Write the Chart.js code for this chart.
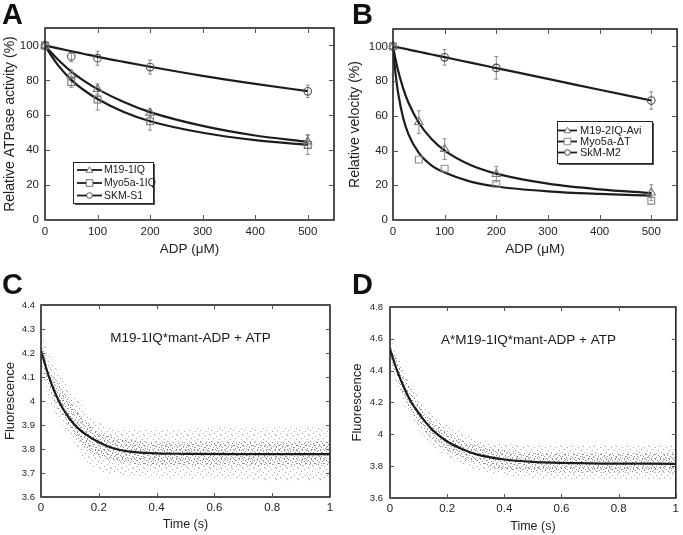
<!DOCTYPE html>
<html>
<head>
<meta charset="utf-8">
<script src="https://cdn.jsdelivr.net/npm/chart.js@4.4.1/dist/chart.umd.min.js"></script>
<style>
  body { margin: 0; background: #fff; width: 683px; height: 535px; position: relative; overflow: hidden; }
  canvas { position: absolute; }
  .tag { position: absolute; font: bold 29px "Liberation Sans", Arial, sans-serif; line-height: 1; color: #111; }
</style>
</head>
<body>
<canvas id="cA" width="340" height="270" style="left:0;top:0"></canvas>
<canvas id="cB" width="343" height="270" style="left:340px;top:0"></canvas>
<canvas id="cC" width="340" height="265" style="left:0;top:270px"></canvas>
<canvas id="cD" width="343" height="265" style="left:340px;top:270px"></canvas>
<div class="tag" style="left:2px;top:0px">A</div>
<div class="tag" style="left:352px;top:0px">B</div>
<div class="tag" style="left:2px;top:270px">C</div>
<div class="tag" style="left:352px;top:270px">D</div>
<script>
// ---- panel A : ATPase activity vs ADP
const adpA = [0, 50, 100, 200, 500];
const m19A = [100, 83, 75, 61.4, 45];
const m19AErr = [0, 3, 3, 2, 4];
const myoA = [100, 79, 69, 56.5, 43];
const myoAErr = [0, 3, 6, 5, 5.5];
const skmA = [100, 93.7, 92.7, 87.6, 73.7];
const skmAErr = [0, 3, 4, 4, 3.5];
const fitXA = [0, 10, 25, 50, 75, 100, 150, 200, 300, 400, 500];
const m19AFit = [100, 96.5, 91.8, 85, 79.6, 75, 67.6, 61.8, 53.9, 48.4, 44.8];
const myoAFit = [100, 95, 88.6, 80.3, 74.2, 69.3, 61.9, 56.6, 50, 45.8, 43.1];
const skmAFit = [100, 99.3, 98.3, 96.7, 95.1, 93.5, 90.6, 87.8, 82.6, 78, 73.8];

// ---- panel B : velocity vs ADP
const adpB = [0, 50, 100, 200, 500];
const m19B = [100, 56.4, 40.8, 26.4, 15.8];
const m19BErr = [0, 6.5, 6, 4.5, 4.5];
const myoB = [100, 34.8, 29.6, 20.8, 11.1];
const adpSkmB = [0, 100, 200, 500];
const skmB = [100, 93.7, 87.6, 68.8];
const skmBErr = [0, 4.5, 6.5, 5];
const fitXB = [0, 5, 10, 20, 30, 50, 75, 100, 150, 200, 300, 400, 500];
const m19BFit = [100, 92.4, 85.9, 75.5, 67.5, 56, 46.5, 40, 31.7, 26.7, 20.9, 17.6, 15.5];
const myoBFit = [100, 84, 73, 58.4, 49.3, 38.6, 31.3, 27.3, 22.1, 19.3, 16.5, 15, 14];
const skmBFit = [100, 99.7, 99.4, 98.8, 98.1, 96.9, 95.3, 93.8, 90.6, 87.5, 81.3, 75, 68.8];

// ---- panel C / D : fluorescence transients (fit + scatter envelope)
const tFit = [0, 0.025, 0.05, 0.075, 0.1, 0.125, 0.15, 0.2, 0.25, 0.3, 0.4, 0.5, 0.7, 1];
const fluCFit = [4.21, 4.11, 4.03, 3.97, 3.925, 3.89, 3.865, 3.828, 3.803, 3.79, 3.782, 3.78, 3.779, 3.779];
const fluDFit = [4.535, 4.40, 4.29, 4.20, 4.135, 4.075, 4.025, 3.955, 3.91, 3.876, 3.842, 3.827, 3.818, 3.815];
const tBand = [0, 0.02, 0.05, 0.1, 0.15, 0.2, 0.3, 0.4, 0.6, 0.8, 1];
const cOuterHi = [4.30, 4.22, 4.14, 4.05, 3.97, 3.91, 3.88, 3.88, 3.89, 3.89, 3.89];
const cOuterLo = [4.12, 4.04, 3.95, 3.85, 3.76, 3.71, 3.69, 3.68, 3.68, 3.67, 3.67];
const cInnerHi = [4.25, 4.17, 4.09, 4.00, 3.92, 3.87, 3.84, 3.83, 3.83, 3.83, 3.83];
const cInnerLo = [4.16, 4.08, 3.99, 3.89, 3.81, 3.77, 3.74, 3.73, 3.73, 3.73, 3.73];
const dOuterHi = [4.62, 4.52, 4.40, 4.23, 4.12, 4.06, 3.97, 3.94, 3.93, 3.93, 3.93];
const dOuterLo = [4.44, 4.33, 4.19, 4.03, 3.93, 3.86, 3.78, 3.74, 3.72, 3.72, 3.72];
const dInnerHi = [4.58, 4.48, 4.36, 4.19, 4.08, 4.01, 3.93, 3.90, 3.88, 3.88, 3.88];
const dInnerLo = [4.48, 4.37, 4.23, 4.07, 3.97, 3.90, 3.82, 3.78, 3.76, 3.76, 3.76];

// tick labels
const ticksAdp = [0, 100, 200, 300, 400, 500];
const ticksPct = [0, 20, 40, 60, 80, 100];
const ticksTime = [0, 0.2, 0.4, 0.6, 0.8, 1];
const ticksFluC = [3.6, 3.7, 3.8, 3.9, 4, 4.1, 4.2, 4.3, 4.4];
const ticksFluD = [3.6, 3.8, 4, 4.2, 4.4, 4.6, 4.8];

Chart.defaults.font.family = '"Liberation Sans", Arial, sans-serif';
Chart.defaults.color = '#222';

function pts(xs, ys) { return xs.map((x, i) => ({ x: x, y: ys[i] })); }

// fixed stipple tiles so the envelope reads as a cloud of dots
function stipple(size, dots, color) {
  const c = document.createElement('canvas');
  c.width = c.height = size;
  const g = c.getContext('2d');
  g.fillStyle = color;
  dots.forEach(d => g.fillRect(d[0], d[1], 1, 1));
  return g.createPattern(c, 'repeat');
}
const sparseDots = stipple(11, [[1, 0], [7, 1], [4, 3], [10, 4], [2, 6], [8, 7], [5, 9], [0, 10]], '#a8a8a8');
const denseDots = stipple(9, [[0, 0], [5, 0], [2, 1], [7, 2], [4, 3], [0, 4], [8, 4], [3, 5], [6, 6], [1, 7], [5, 8], [8, 8]], '#8c8c8c');

function marker(label, xs, ys, errs, style, r, color) {
  return {
    label: label, data: pts(xs, ys), errors: errs, key: true,
    showLine: false, pointStyle: style, pointRadius: r,
    pointBorderColor: color, pointBackgroundColor: 'rgba(0,0,0,0)', pointBorderWidth: 1.1,
    clip: false
  };
}
function fit(xs, ys) {
  return {
    data: pts(xs, ys), showLine: true, pointRadius: 0,
    borderColor: '#1c1c1c', borderWidth: 2.2, cubicInterpolationMode: 'monotone'
  };
}
function band(xs, ys, fillTo, pattern) {
  return {
    data: pts(xs, ys), showLine: true, pointRadius: 0, borderWidth: 0,
    borderColor: 'rgba(0,0,0,0)', backgroundColor: pattern, fill: fillTo,
    cubicInterpolationMode: 'monotone'
  };
}

function axis(o) {
  return {
    type: 'linear', min: o.min, max: o.max,
    grid: { display: false, drawTicks: false },
    border: { display: false },
    ticks: { padding: o.pad, font: { size: o.size }, color: '#222', autoSkip: false, maxRotation: 0,
             callback: v => String(v) },
    afterBuildTicks: s => { s.ticks = o.ticks.map(v => ({ value: v })); },
    afterFit: s => { if (s.isHorizontal()) s.height = o.fit; else s.width = o.fit; },
    title: { display: true, text: o.title, font: { size: o.tsize }, color: '#222', padding: o.tpad }
  };
}

const framePlugin = {
  id: 'frame',
  beforeDatasetsDraw(chart) {
    const { ctx, scales: { x, y } } = chart;
    ctx.save();
    ctx.strokeStyle = '#8c8c8c';
    ctx.lineWidth = 1;
    chart.data.datasets.forEach(ds => {
      if (!ds.errors) return;
      ds.data.forEach((p, j) => {
        const e = ds.errors[j];
        if (!e) return;
        const px = x.getPixelForValue(p.x);
        const y1 = y.getPixelForValue(p.y + e), y2 = y.getPixelForValue(p.y - e);
        ctx.beginPath();
        ctx.moveTo(px, y1); ctx.lineTo(px, y2);
        ctx.moveTo(px - 2, y1); ctx.lineTo(px + 2, y1);
        ctx.moveTo(px - 2, y2); ctx.lineTo(px + 2, y2);
        ctx.stroke();
      });
    });
    ctx.restore();
  },
  afterDatasetsDraw(chart, args, opts) {
    const { ctx, chartArea: a, scales: { x, y } } = chart;
    ctx.save();
    ctx.strokeStyle = '#222';
    ctx.lineWidth = 1.6;
    ctx.strokeRect(a.left, a.top, a.right - a.left, a.bottom - a.top);
    ctx.lineWidth = 1;
    ctx.strokeStyle = '#555';
    const tl = opts.tick || 4;
    ctx.beginPath();
    x.ticks.forEach(t => {
      const px = Math.round(x.getPixelForValue(t.value)) + 0.5;
      ctx.moveTo(px, a.bottom); ctx.lineTo(px, a.bottom - tl);
      ctx.moveTo(px, a.top); ctx.lineTo(px, a.top + tl);
    });
    y.ticks.forEach(t => {
      const py = Math.round(y.getPixelForValue(t.value)) + 0.5;
      ctx.moveTo(a.left, py); ctx.lineTo(a.left + tl, py);
      ctx.moveTo(a.right, py); ctx.lineTo(a.right - tl, py);
    });
    ctx.stroke();

    if (opts.legend) {
      const lg = opts.legend;
      ctx.fillStyle = '#555';
      ctx.fillRect(lg.x + 2, lg.y + 2, lg.w, lg.h);
      ctx.fillStyle = '#fff';
      ctx.fillRect(lg.x, lg.y, lg.w, lg.h);
      ctx.strokeStyle = '#222';
      ctx.lineWidth = 1;
      ctx.strokeRect(lg.x + 0.5, lg.y + 0.5, lg.w, lg.h);
      const keys = chart.data.datasets.filter(d => d.key);
      ctx.font = lg.font + 'px "Liberation Sans", Arial, sans-serif';
      ctx.textBaseline = 'middle';
      keys.forEach((d, i) => {
        const ry = lg.rows[i];
        ctx.strokeStyle = '#1c1c1c';
        ctx.lineWidth = 1.8;
        ctx.beginPath(); ctx.moveTo(lg.x0, ry); ctx.lineTo(lg.x1, ry); ctx.stroke();
        const mx = (lg.x0 + lg.x1) / 2, r = 3.3;
        ctx.strokeStyle = d.pointBorderColor;
        ctx.lineWidth = 1;
        ctx.beginPath();
        if (d.pointStyle === 'triangle') {
          ctx.moveTo(mx, ry - r); ctx.lineTo(mx + r, ry + r * 0.7); ctx.lineTo(mx - r, ry + r * 0.7); ctx.closePath();
        } else if (d.pointStyle === 'rect') {
          ctx.rect(mx - r, ry - r, 2 * r, 2 * r);
        } else {
          ctx.arc(mx, ry, r * 0.85, 0, Math.PI * 2);
        }
        ctx.fillStyle = '#fff';
        ctx.fill();
        ctx.stroke();
        ctx.fillStyle = '#1a1a1a';
        ctx.textAlign = 'left';
        ctx.fillText(d.label, lg.tx, ry + 0.5);
      });
    }
    if (opts.note) {
      ctx.font = '13.5px "Liberation Sans", Arial, sans-serif';
      ctx.fillStyle = '#1a1a1a';
      ctx.textAlign = 'center';
      ctx.textBaseline = 'middle';
      ctx.fillText(opts.note.text, opts.note.x, opts.note.y);
    }
    ctx.restore();
  }
};

function makeChart(id, datasets, xs, ys, pad, frameOpts) {
  new Chart(document.getElementById(id), {
    type: 'scatter',
    data: { datasets: datasets },
    options: {
      responsive: false,
      animation: false,
      layout: { padding: pad },
      plugins: { legend: { display: false }, tooltip: { enabled: false }, frame: frameOpts },
      scales: { x: xs, y: ys }
    },
    plugins: [framePlugin]
  });
}

// A
makeChart('cA', [
  marker('M19-1IQ', adpA, m19A, m19AErr, 'triangle', 4.8, '#6f6f6f'),
  marker('Myo5a-1IQ', adpA, myoA, myoAErr, 'rect', 4.8, '#6f6f6f'),
  marker('SKM-S1', adpA, skmA, skmAErr, 'circle', 3.8, '#555'),
  fit(fitXA, m19AFit), fit(fitXA, myoAFit), fit(fitXA, skmAFit)
],
  axis({ min: 0, max: 550, ticks: ticksAdp, pad: 5, size: 11.5, fit: 50, title: 'ADP (\u03bcM)', tsize: 13.5, tpad: { top: 0, bottom: 13 } }),
  axis({ min: 0, max: 110, ticks: ticksPct, pad: 6, size: 11.5, fit: 45, title: 'Relative ATPase activity (%)', tsize: 14, tpad: { top: 1.5, bottom: 0 } }),
  { left: 0, top: 28, right: 6, bottom: 0 },
  { tick: 5, legend: { x: 73, y: 162, w: 80, h: 41, rows: [170, 183, 195.5], x0: 77, x1: 102, tx: 104, font: 10.5 } }
);

// B
makeChart('cB', [
  marker('M19-2IQ-Avi', adpB, m19B, m19BErr, 'triangle', 4.8, '#7a7a7a'),
  marker('Myo5a-\u0394T', adpB, myoB, null, 'rect', 4.8, '#8a8a8a'),
  marker('SkM-M2', adpSkmB, skmB, skmBErr, 'circle', 3.8, '#444'),
  fit(fitXB, m19BFit), fit(fitXB, myoBFit), fit(fitXB, skmBFit)
],
  axis({ min: 0, max: 550, ticks: ticksAdp, pad: 5, size: 11.5, fit: 50, title: 'ADP (\u03bcM)', tsize: 13.5, tpad: { top: 0, bottom: 13 } }),
  axis({ min: 0, max: 110, ticks: ticksPct, pad: 5, size: 11.5, fit: 53, title: 'Relative velocity (%)', tsize: 14, tpad: { top: 6.5, bottom: 0 } }),
  { left: 0, top: 29, right: 1, bottom: 0 },
  { tick: 5, legend: { x: 217, y: 121, w: 95, h: 42, rows: [130.5, 141.5, 152.5], x0: 218, x1: 237, tx: 240, font: 11 } }
);

// C
makeChart('cC', [
  fit(tFit, fluCFit),
  band(tBand, cInnerHi, '+1', denseDots), band(tBand, cInnerLo, false, null),
  band(tBand, cOuterHi, '+1', sparseDots), band(tBand, cOuterLo, false, null)
],
  axis({ min: 0, max: 1, ticks: ticksTime, pad: 4, size: 11.5, fit: 38, title: 'Time (s)', tsize: 12.5, tpad: { top: 0, bottom: 2.5 } }),
  axis({ min: 3.6, max: 4.4, ticks: ticksFluC, pad: 6, size: 9.5, fit: 41, title: 'Fluorescence', tsize: 13, tpad: { top: 3, bottom: 0 } }),
  { left: 0, top: 35, right: 10, bottom: 0 },
  { tick: 4, note: { text: 'M19-1IQ*mant-ADP + ATP', x: 190.5, y: 68 } }
);

// D
makeChart('cD', [
  fit(tFit, fluDFit),
  band(tBand, dInnerHi, '+1', denseDots), band(tBand, dInnerLo, false, null),
  band(tBand, dOuterHi, '+1', sparseDots), band(tBand, dOuterLo, false, null)
],
  axis({ min: 0, max: 1, ticks: ticksTime, pad: 4, size: 11.5, fit: 37, title: 'Time (s)', tsize: 12.5, tpad: { top: 0, bottom: 0.5 } }),
  axis({ min: 3.6, max: 4.8, ticks: ticksFluD, pad: 7, size: 9.5, fit: 50, title: 'Fluorescence', tsize: 13, tpad: { top: 10, bottom: 0 } }),
  { left: 0, top: 37, right: 4, bottom: 0 },
  { tick: 4, note: { text: 'A*M19-1IQ*mant-ADP + ATP', x: 188.5, y: 70 } }
);
</script>
</body>
</html>
